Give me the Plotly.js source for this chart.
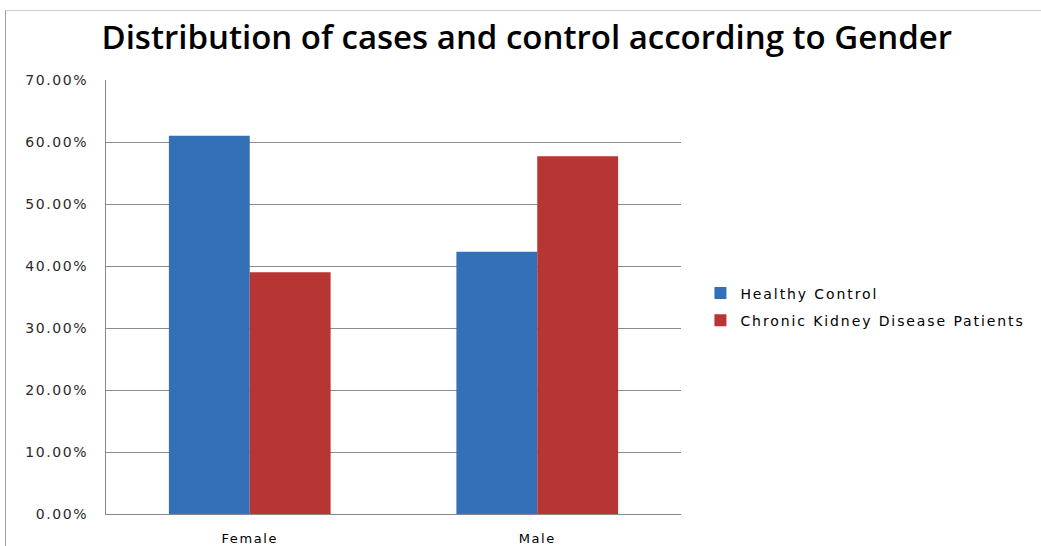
<!DOCTYPE html>
<html>
<head>
<meta charset="utf-8">
<script src="https://cdn.plot.ly/plotly-3.0.1.min.js"></script>
<style>
  html, body { margin: 0; padding: 0; background: #fff; }
  #chart { width: 1041px; height: 546px; position: relative; }
  #frame { position: absolute; left: 5px; top: 10px; width: 1100px; height: 600px;
           border-left: 1px solid #a0a0a0; border-top: 1px solid #d0d0d0; pointer-events: none; }
  .ytick text, .xtick text { letter-spacing: 1.6px; }
  .legendtext { letter-spacing: 1.9px; }
</style>
</head>
<body>
<div id="chart"></div>
<div id="frame"></div>
<script>
const categories = ["Female", "Male"];
const seriesNames = ["Healthy Control", "Chronic Kidney Disease Patients"];
const healthyControl = [0.610, 0.423];
const ckdPatients = [0.390, 0.577];
const yTickVals = [0, 0.1, 0.2, 0.3, 0.4, 0.5, 0.6, 0.7];

const traces = [
  { type: "bar", name: seriesNames[0], legendgroup: "g1", x: categories, y: healthyControl,
    marker: { color: "#3470b8", line: { width: 0 } } },
  { type: "bar", name: seriesNames[1], legendgroup: "g2", x: categories, y: ckdPatients,
    marker: { color: "#b73532", line: { width: 0 } } }
];

const layout = {
  width: 1041, height: 546,
  margin: { l: 106, r: 359, t: 80, b: 32 },
  paper_bgcolor: "#ffffff", plot_bgcolor: "#ffffff",
  title: { text: "Distribution of cases and control according to Gender",
           font: { family: "Open Sans, Noto Sans, sans-serif", size: 33, weight: 600, color: "#000" },
           x: 0.506, xanchor: "center", y: 0.932, yanchor: "middle" },
  barmode: "group", bargap: 0.4375, bargroupgap: 0,
  showlegend: true,
  legend: { x: 1.032, xanchor: "left", y: 0.545, yanchor: "top",
            font: { family: "DejaVu Sans, Verdana, sans-serif", size: 14, color: "#000" },
            traceorder: "grouped", tracegroupgap: 6, itemwidth: 30 },
  xaxis: { type: "category", showline: true, linecolor: "#888", linewidth: 1,
           ticks: "", showgrid: false, ticklabelstandoff: 12,
           tickfont: { family: "DejaVu Sans, Verdana, sans-serif", size: 13, color: "#000" } },
  yaxis: { range: [0, 0.7], tickvals: yTickVals, tickformat: ".2%",
           showline: true, linecolor: "#888", linewidth: 1,
           showgrid: true, gridcolor: "#8c8c8c", gridwidth: 1, zeroline: false,
           ticks: "", ticklabelstandoff: 14,
           tickfont: { family: "DejaVu Sans, Verdana, sans-serif", size: 14, color: "#2a2a2a" } },
  font: { family: "DejaVu Sans, sans-serif" }
};

Plotly.newPlot("chart", traces, layout, { displayModeBar: false, staticPlot: true });
</script>
</body>
</html>
